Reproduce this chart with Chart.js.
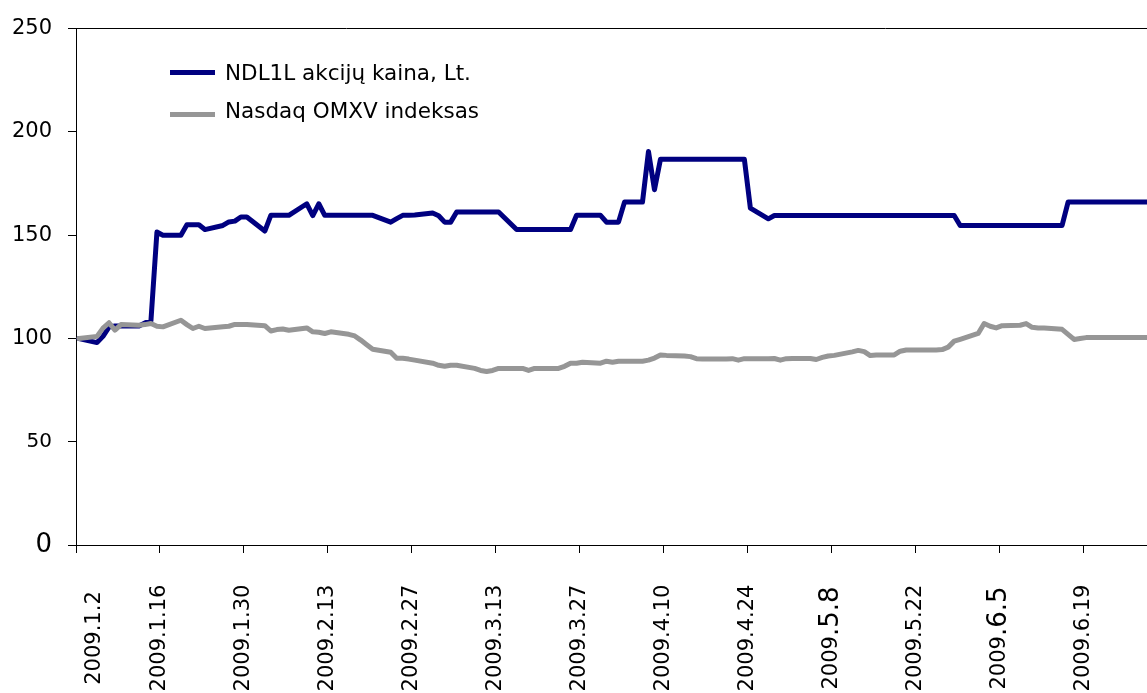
<!DOCTYPE html>
<html><head><meta charset="utf-8">
<script src="https://cdn.jsdelivr.net/npm/chart.js@4.4.1/dist/chart.umd.min.js"></script>
<style>
html,body{margin:0;padding:0;background:#fff;overflow:hidden;width:1147px;height:693px;}
#wrap{position:relative;width:1160px;height:693px;}
canvas{display:block;}
.row{position:absolute;left:170px;white-space:nowrap;height:22px;line-height:22px;font-family:"DejaVu Sans",Verdana,sans-serif;font-size:21.5px;color:#000;}
.sw{position:absolute;left:0;width:45px;height:5px;}
.tx{position:absolute;left:55px;top:0;}
</style></head>
<body>
<div id="wrap">
<canvas id="c" width="1160" height="693"></canvas>
<div class="row" style="top:62px"><span class="sw" style="top:8px;background:#000080"></span><span class="tx">NDL1L akcijų kaina, Lt.</span></div>
<div class="row" style="top:100px"><span class="sw" style="top:12px;background:#969696"></span><span class="tx">Nasdaq OMXV indeksas</span></div>
</div>
<script>
// trading dates (month.day, 2009)
const dates = [
 '1.2','1.5','1.6','1.7','1.8','1.9','1.12','1.13','1.14','1.15','1.16','1.19','1.20','1.21','1.22','1.23','1.26','1.27','1.28','1.29','1.30',
 '2.2','2.3','2.4','2.5','2.6','2.9','2.10','2.11','2.12','2.13','2.16','2.17','2.18','2.19','2.20','2.23','2.24','2.25','2.26','2.27',
 '3.2','3.3','3.4','3.5','3.6','3.9','3.10','3.11','3.12','3.13','3.16','3.17','3.18','3.19','3.20','3.23','3.24','3.25','3.26','3.27','3.30','3.31',
 '4.1','4.2','4.3','4.6','4.7','4.8','4.9','4.10','4.13','4.14','4.15','4.16','4.17','4.20','4.21','4.22','4.23','4.24','4.27','4.28','4.29','4.30',
 '5.1','5.4','5.5','5.6','5.7','5.8','5.11','5.12','5.13','5.14','5.15','5.18','5.19','5.20','5.21','5.22','5.25','5.26','5.27','5.28','5.29',
 '6.1','6.2','6.3','6.4','6.5','6.8','6.9','6.10','6.11','6.12','6.15','6.16','6.17','6.18','6.19','6.22','6.23','6.24','6.25','6.26','6.29','6.30'
];

const ndl1l = [
 100, 98, 101, 105.5, 106, 106, 106, 107.5, 108.5, 151.5, 150, 150, 155, 155, 155, 152.7, 154.7, 156.4, 156.8, 158.8, 158.8,
 152, 159.6, 159.6, 159.6, 159.6, 165.2, 159.5, 165.2, 159.6, 159.6, 159.6, 159.6, 159.6, 159.6, 159.6, 156.3, 158, 159.6, 159.6, 159.8,
 160.7, 159.4, 156.3, 156.3, 161.2, 161.2, 161.2, 161.2, 161.2, 161.2, 152.7, 152.7, 152.7, 152.7, 152.7, 152.7, 152.7, 152.7, 159.6, 159.6, 159.6, 156.3,
 156.3, 156.3, 166, 166, 190.5, 172, 186.7, 186.7, 186.7, 186.7, 186.7, 186.7, 186.7, 186.7, 186.7, 186.7, 186.7, 163.1, 157.9, 159.5, 159.5, 159.5,
 159.5, 159.5, 159.5, 159.5, 159.5, 159.5, 159.5, 159.5, 159.5, 159.5, 159.5, 159.5, 159.5, 159.5, 159.5, 159.5, 159.5, 159.5, 159.5, 159.5, 154.7,
 154.7, 154.7, 154.7, 154.7, 154.7, 154.7, 154.7, 154.7, 154.7, 154.7, 154.7, 166, 166, 166, 166, 166, 166, 166, 166, 166, 166, 166
];

const omxv = [
 100, 101, 105, 107.6, 104, 106.7, 106.4, 106.7, 107.2, 105.9, 105.6, 108.8, 106.7, 104.8, 105.9, 104.8, 105.7, 105.9, 106.8, 106.8, 106.8,
 106.2, 103.6, 104.3, 104.6, 104, 105.1, 103.2, 103, 102.4, 103.2, 102, 101.2, 99.2, 97, 94.8, 93.3, 90.4, 90.4, 90, 89.5,
 88, 87, 86.5, 87, 87, 85.5, 84.5, 84, 84.5, 85.5, 85.5, 85.5, 84.5, 85.5, 85.5, 85.5, 86.5, 88, 88, 88.5, 88, 89,
 88.5, 89, 89, 89, 89.5, 90.5, 92, 91.8, 91.5, 91.2, 90.2, 90, 90, 90, 90.2, 89.5, 90.2, 90.2, 90.2, 90.3, 89.5, 90.2,
 90.3, 90.3, 89.8, 90.8, 91.5, 91.8, 93.5, 94.2, 93.6, 91.7, 92, 92, 93.8, 94.4, 94.4, 94.4, 94.4, 94.6, 95.8, 98.7, 99.6,
 102.4, 107.2, 105.9, 105.1, 106.2, 106.4, 107.2, 105.4, 105.1, 105.1, 104.4, 102, 99.5, 100, 100.4, 100.4, 100.4, 100.4, 100.4, 100.4, 100.4, 100.4
];

const xTickLabels = ['2009.1.2','2009.1.16','2009.1.30','2009.2.13','2009.2.27','2009.3.13','2009.3.27',
                     '2009.4.10','2009.4.24','2009.5.8','2009.5.22','2009.6.5','2009.6.19'];
const enlargedLabels = ['2009.5.8','2009.6.5'];
const yTicks = [0, 50, 100, 150, 200, 250];
const seriesNames = ['NDL1L akcijų kaina, Lt.', 'Nasdaq OMXV indeksas'];

const FONT = '"DejaVu Sans", Verdana, sans-serif';
const base = Date.UTC(2009, 0, 2);
function dayIdx(md){
  const p = md.split('.').map(Number);
  return (Date.UTC(2009, p[0]-1, p[1]) - base) / 864e5;
}
const lastDay = dayIdx(dates[dates.length-1]);
const tickVals = xTickLabels.map(l => dayIdx(l.slice(5)) - 0.5);

const xLabelPlugin = {
  id: 'xlabels',
  afterDraw(chart){
    const ctx = chart.ctx, sx = chart.scales.x;
    xTickLabels.forEach((lab, k) => {
      const px = sx.getPixelForValue(tickVals[k]) + (k === 0 ? 19 : 0);
      const parts = enlargedLabels.includes(lab) ? [[lab.slice(0,4), 21], [lab.slice(4), 26]] : [[lab, 21]];
      let total = 0;
      parts.forEach(p => { ctx.font = p[1] + 'px ' + FONT; p.push(ctx.measureText(p[0]).width); total += p[2]; });
      ctx.save();
      ctx.fillStyle = '#000';
      ctx.textBaseline = 'middle';
      ctx.textAlign = 'left';
      ctx.translate(px, 638);
      ctx.rotate(-Math.PI / 2);
      let xx = -total / 2;
      parts.forEach(p => { ctx.font = p[1] + 'px ' + FONT; ctx.fillText(p[0], xx, 0); xx += p[2]; });
      ctx.restore();
    });
  }
};

new Chart(document.getElementById('c'), {
  type: 'line',
  data: {
    datasets: [
      { label: seriesNames[0], data: dates.map((d,i) => ({x: dayIdx(d), y: ndl1l[i]})),
        borderColor: '#000080', backgroundColor: '#000080', order: 1 },
      { label: seriesNames[1], data: dates.map((d,i) => ({x: dayIdx(d), y: omxv[i]})),
        borderColor: '#969696', backgroundColor: '#969696', order: 0 }
    ]
  },
  options: {
    responsive: false,
    animation: false,
    layout: { padding: { top: 24, right: 5, left: 0, bottom: 0 } },
    plugins: { legend: { display: false }, tooltip: { enabled: false } },
    elements: {
      point: { radius: 0, hoverRadius: 0 },
      line: { borderWidth: 5, tension: 0, borderJoinStyle: 'round', borderCapStyle: 'round' }
    },
    scales: {
      x: {
        type: 'linear', min: -0.5, max: lastDay + 0.5,
        afterBuildTicks: s => { s.ticks = tickVals.map(v => ({ value: v })); },
        afterFit: s => { s.height = 148; },
        ticks: { display: false },
        grid: { drawOnChartArea: false, drawTicks: true, tickLength: 8, color: '#000', tickColor: '#000' },
        border: { display: true, color: '#000', width: 1 }
      },
      y: {
        min: 0, max: 250,
        afterBuildTicks: s => { s.ticks = yTicks.map(v => ({ value: v })); },
        afterFit: s => { s.width = 76; },
        ticks: {
          padding: 16, color: '#000',
          font: ctx => ({ family: FONT, size: ctx.tick && ctx.tick.value === 0 ? 26 : (ctx.tick && ctx.tick.value === 50 ? 20 : 21) }),
          callback: v => String(v)
        },
        grid: {
          color: ctx => (ctx.tick && ctx.tick.value === 250) ? '#000' : 'rgba(0,0,0,0)',
          tickColor: '#000', tickLength: 8, lineWidth: 1
        },
        border: { display: true, color: '#000', width: 1 }
      }
    }
  },
  plugins: [xLabelPlugin]
});
</script>
</body></html>
